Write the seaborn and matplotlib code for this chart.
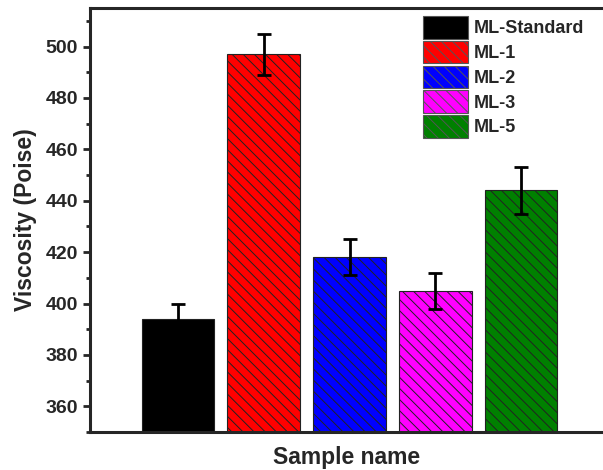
import numpy as np
import pandas as pd
import seaborn as sns
import matplotlib.pyplot as plt
from matplotlib.patches import Patch
from matplotlib.ticker import MultipleLocator

samples = ["ML-Standard", "ML-1", "ML-2", "ML-3", "ML-5"]
viscosity = [394, 497, 418, 405, 444]
errors = [6, 8, 7, 7, 9]
colors = ["#000000", "#FF0000", "#0000FF", "#FF00FF", "#008000"]
hatches = ["", "\\\\\\", "\\\\\\", "\\\\\\", "\\\\\\"]

sns.set_style("ticks")
plt.rcParams["font.family"] = ["Liberation Sans", "DejaVu Sans"]
plt.rcParams["font.weight"] = "bold"
plt.rcParams["hatch.linewidth"] = 0.7

df = pd.DataFrame({"sample": samples, "viscosity": viscosity})

fig = plt.figure(figsize=(6.03, 4.70), dpi=100)
ax = fig.add_axes([90 / 603, 38 / 470, 513 / 603, 424 / 470])

sns.barplot(data=df, x="sample", y="viscosity", hue="sample", palette=colors,
            width=0.84, errorbar=None, legend=False, ax=ax,
            edgecolor="#222222", linewidth=0.8, saturation=1)
for p, h in zip(ax.patches, hatches):
    p.set_hatch(h)

ax.errorbar(np.arange(len(samples)), viscosity, yerr=errors, fmt="none",
            ecolor="black", elinewidth=2, capsize=5, capthick=2)

ax.set_ylim(350, 515)
ax.set_xlim(-1.02, 4.95)
ax.yaxis.set_major_locator(MultipleLocator(20))
ax.yaxis.set_minor_locator(MultipleLocator(10))
ax.tick_params(axis="y", which="major", length=5, width=2, labelsize=14)
ax.tick_params(axis="y", which="minor", length=3, width=2)
ax.set_xticks([])
for lab in ax.get_yticklabels():
    lab.set_fontweight("bold")

for s in ["left", "top", "bottom"]:
    ax.spines[s].set_linewidth(2.2)
ax.spines["right"].set_visible(False)

ax.set_xlabel("Sample name", fontsize=16.5, fontweight="bold", labelpad=10)
ax.set_ylabel("Viscosity (Poise)", fontsize=16.5, fontweight="bold", labelpad=6)

handles = [Patch(facecolor=c, edgecolor="#555555", hatch=h, linewidth=0.8)
           for c, h in zip(colors, hatches)]
ax.legend(handles, samples, loc="upper left", bbox_to_anchor=(0.649, 0.981),
          frameon=False, borderpad=0, borderaxespad=0, handlelength=2.5,
          handleheight=1.55, labelspacing=0.12, handletextpad=0.3,
          prop={"size": 13, "weight": "bold"})

fig.savefig("out.png", dpi=100)
